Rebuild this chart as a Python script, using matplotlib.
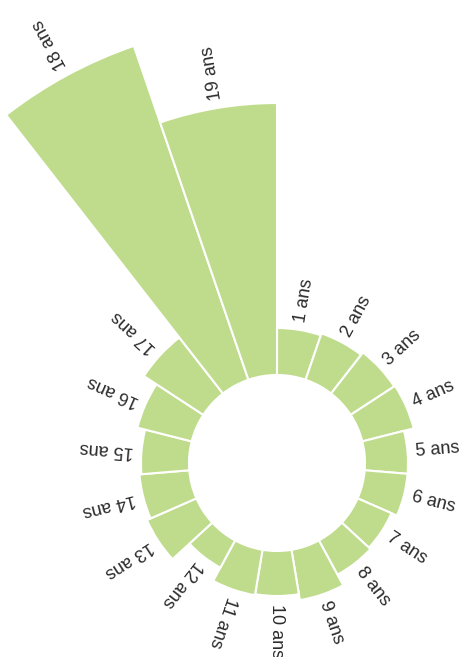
import numpy as np
import matplotlib
matplotlib.use("Agg")
import matplotlib.pyplot as plt

# age groups and bar lengths (in pixels beyond the hole)
labels = [f"{i} ans" for i in range(1, 20)]
values = [47, 49, 52, 53, 43, 43, 37, 39, 51, 45, 46, 31, 54, 50, 48, 56, 71, 353, 272]

hole = 88
bar_color = "#bfdc8d"
text_color = "#2b2b2b"

plt.rcParams['font.family'] = ['Liberation Sans', 'DejaVu Sans']

W, H = 459, 657
fig = plt.figure(figsize=(W / 100, H / 100), dpi=100)

# polar axes centred on the hole, 1 data unit = 1 pixel
cx, cy, R = 277, 463, 470
ax = fig.add_axes([(cx - R) / W, (H - cy - R) / H, 2 * R / W, 2 * R / H], projection='polar')
ax.set_theta_zero_location('N')
ax.set_theta_direction(-1)
ax.set_ylim(0, R)
ax.axis('off')

n = len(values)
width = 2 * np.pi / n
theta = np.arange(n) * width + width / 2

ax.bar(theta, values, width=width, bottom=hole, color=bar_color,
       edgecolor='white', linewidth=1.5)

for t, v, lab in zip(theta, values, labels):
    rot = 90 - np.degrees(t)
    ax.text(t, hole + v + 8, lab, rotation=rot, rotation_mode='anchor',
            ha='left', va='center', fontsize=13, color=text_color)

fig.savefig("out.png", dpi=100)
